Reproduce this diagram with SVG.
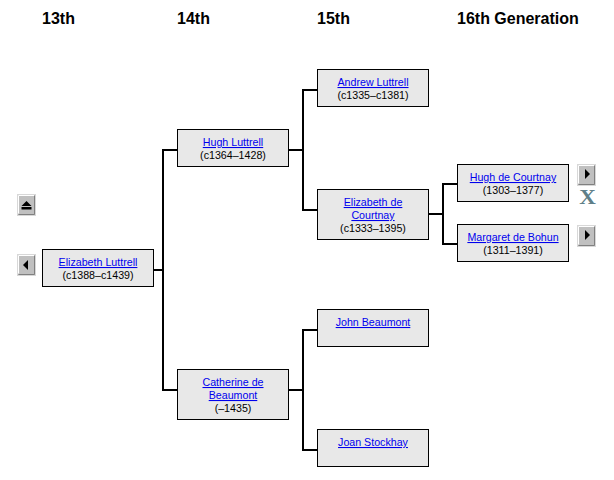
<svg xmlns="http://www.w3.org/2000/svg" width="614" height="480" viewBox="0 0 614 480">
<style>
text{font-family:"Liberation Sans",Arial,sans-serif}
.h{font-size:16px;font-weight:bold;fill:#000}
.b{fill:#e8e8e8;stroke:#000;stroke-width:1}
.l{font-size:10.667px;fill:#0000ee;text-decoration:underline;text-anchor:middle}
.d{font-size:10.667px;fill:#000;text-anchor:middle}
.c{fill:none;stroke:#000;stroke-width:2}
.bt{fill:#c0c0c0;stroke:#d8d8d8;stroke-width:1}
.sh{fill:none;stroke:#808080;stroke-width:1}
.hi{fill:none;stroke:#fff;stroke-width:1}
</style>
<rect width="614" height="480" fill="#fff"/>
<g id="headers">
<text class="h" x="42" y="24">13th</text>
<text class="h" x="177" y="24">14th</text>
<text class="h" x="317" y="24">15th</text>
<text class="h" x="457" y="24">16th Generation</text>
</g>
<g id="connectors">
<path class="c" d="M154 270H163M177 150H163V390H177"/>
<path class="c" d="M289 150H303M317 90H303V210H317"/>
<path class="c" d="M289 390H303M317 330H303V450H317"/>
<path class="c" d="M429 214H443M457 184H443V244H457"/>
</g>
<g id="n1"><rect class="b" x="42.500" y="249.500" width="111" height="37"/><text class="l" x="98" y="266">Elizabeth Luttrell</text><text class="d" x="98" y="279">(c1388–c1439)</text></g>
<g id="n2"><rect class="b" x="177.500" y="129.500" width="111" height="37"/><text class="l" x="233" y="146">Hugh Luttrell</text><text class="d" x="233" y="159">(c1364–1428)</text></g>
<g id="n3"><rect class="b" x="177.500" y="369.500" width="111" height="50"/><text class="l" x="233" y="386">Catherine de</text><text class="l" x="233" y="399">Beaumont</text><text class="d" x="233" y="412">(–1435)</text></g>
<g id="n4"><rect class="b" x="317.500" y="69.500" width="111" height="37"/><text class="l" x="373" y="86">Andrew Luttrell</text><text class="d" x="373" y="99">(c1335–c1381)</text></g>
<g id="n5"><rect class="b" x="317.500" y="189.500" width="111" height="50"/><text class="l" x="373" y="206">Elizabeth de</text><text class="l" x="373" y="219">Courtnay</text><text class="d" x="373" y="232">(c1333–1395)</text></g>
<g id="n6"><rect class="b" x="317.500" y="309.500" width="111" height="37"/><text class="l" x="373" y="326">John Beaumont</text></g>
<g id="n7"><rect class="b" x="317.500" y="429.500" width="111" height="37"/><text class="l" x="373" y="446">Joan Stockhay</text></g>
<g id="n8"><rect class="b" x="457.500" y="164.500" width="111" height="37"/><text class="l" x="513" y="181">Hugh de Courtnay</text><text class="d" x="513" y="194">(1303–1377)</text></g>
<g id="n9"><rect class="b" x="457.500" y="224.500" width="111" height="37"/><text class="l" x="513" y="241">Margaret de Bohun</text><text class="d" x="513" y="254">(1311–1391)</text></g>
<g id="btn-up"><rect class="bt" x="17.500" y="194.500" width="18" height="21"/><path class="hi" d="M18.500 213.500V195.500H34.500"/><path class="sh" d="M18.500 214.500H34.500V195.500"/><path d="M26.500 201l5 5h-10zM21.500 207h10v2.500h-10z"/></g>
<g id="btn-left"><rect class="bt" x="17.500" y="254.500" width="18" height="21"/><path class="hi" d="M18.500 273.500V255.500H34.500"/><path class="sh" d="M18.500 274.500H34.500V255.500"/><path d="M23 265l5-5v10z"/></g>
<g id="btn-right1"><rect class="bt" x="577.500" y="164.500" width="18" height="21"/><path class="hi" d="M578.500 183.500V165.500H594.500"/><path class="sh" d="M578.500 184.500H594.500V165.500"/><path d="M590 174l-5-5v10z"/></g>
<g id="btn-right2"><rect class="bt" x="577.500" y="225.500" width="18" height="21"/><path class="hi" d="M578.500 244.500V226.500H594.500"/><path class="sh" d="M578.500 245.500H594.500V226.500"/><path d="M590 235l-5-5v10z"/></g>
<g id="remove"><text transform="translate(587.500 203.500) scale(1.15 1)" text-anchor="middle" style="font-family:'Liberation Serif',serif;font-weight:bold;font-size:20px;fill:#5f7f88">X</text></g>
</svg>
